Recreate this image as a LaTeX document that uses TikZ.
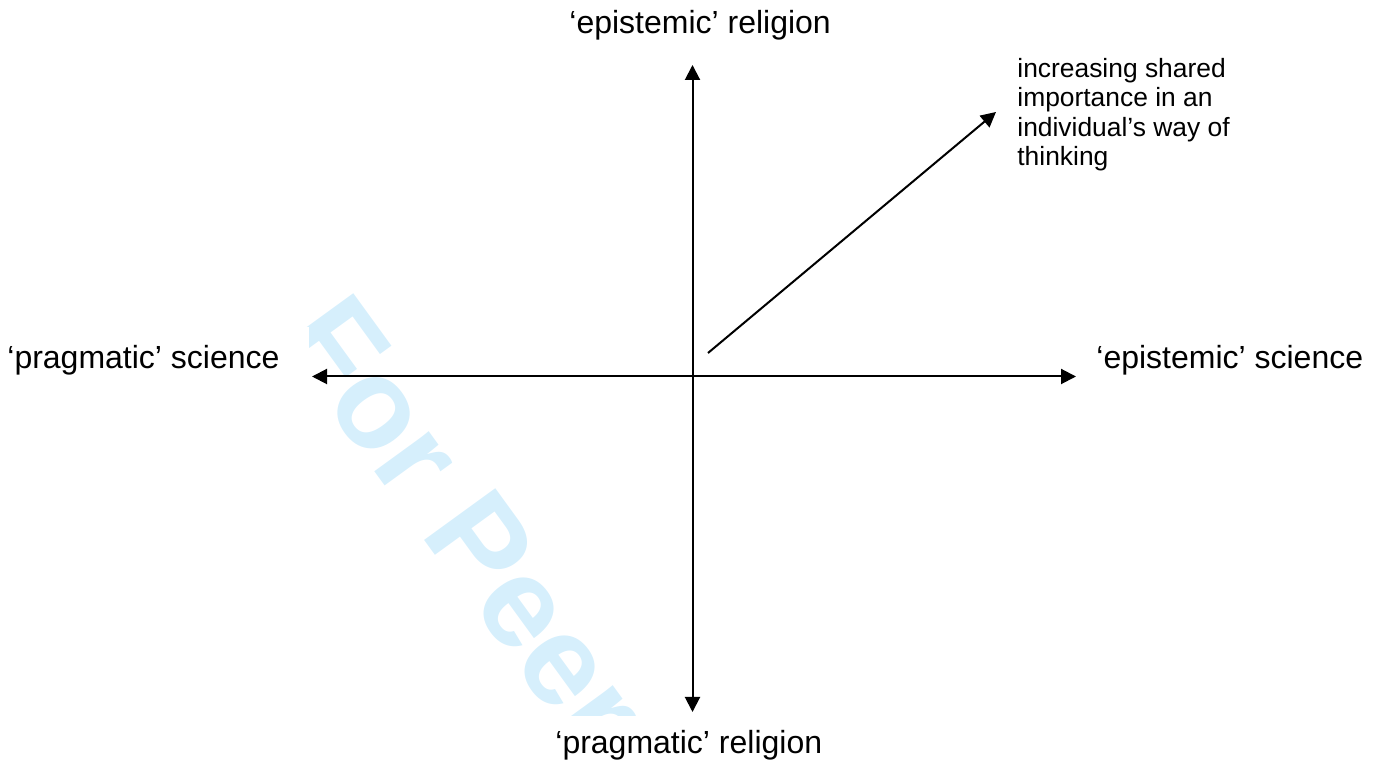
\documentclass[tikz,border=0pt]{standalone}
\usepackage{fontspec}
\setmainfont{Liberation Sans}
\definecolor{wmBlue}{RGB}{214,239,252}
\usetikzlibrary{positioning}
\usetikzlibrary{arrows.meta}
\tikzset{
  axisline/.style={line width=1pt, {Triangle[length=7.5pt,width=7.5pt]}-{Triangle[length=7.5pt,width=7.5pt]}},
  trendline/.style={line width=1pt, -{Triangle[length=7.5pt,width=7.5pt]}},
  axislabel/.style={inner sep=0pt, font=\fontsize{16}{19}\selectfont},
  notelabel/.style={inner sep=0pt, align=left, font=\fontsize{13.2}{14.75}\selectfont}
}
\begin{document}
\begin{tikzpicture}[x=0.5pt,y=-0.5pt]
    \useasboundingbox (0,0) rectangle (1382,769);

    % watermark behind the axes
    \begin{scope}
      \clip (0,0) -- (1382,0) -- (1382,716) -- (309,716) -- (309,327) -- (0,327) -- cycle;
      \node[inner sep=0pt, anchor=base west, rotate=-54, text=wmBlue,
            font=\fontsize{64}{64}\selectfont\bfseries] (watermark) at (277.7,338) {For Peer Review};
    \end{scope}

    % axis end points
    \coordinate (O) at (692.5,376.5);
    \coordinate (west) at (312,376.5);
    \coordinate (east) at (1076,376.5);
    \coordinate (north) at (692.5,65);
    \coordinate (south) at (692.5,712);
    \coordinate (trendstart) at (708,353);
    \coordinate (trendend) at (996,112);

    % axes
    \draw[axisline] (west) -- (east);
    \draw[axisline] (south) -- (north);

    % diagonal trend
    \draw[trendline] (trendstart) -- (trendend);

    % axis labels
    \node[axislabel, anchor=base west] (erel) at (569,34) {‘epistemic’ religion};
    \node[axislabel, anchor=base west] (prel) at (555,754) {‘pragmatic’ religion};
    \node[axislabel, anchor=base west] (psci) at (7,369) {‘pragmatic’ science};
    \node[axislabel, anchor=base west] (esci) at (1096,369) {‘epistemic’ science};

    % trend label (base = last line)
    \node[notelabel, anchor=base west] (trendlabel) at (1017,166) {increasing shared\\importance in an\\individual’s way of\\thinking};
\end{tikzpicture}
\end{document}
